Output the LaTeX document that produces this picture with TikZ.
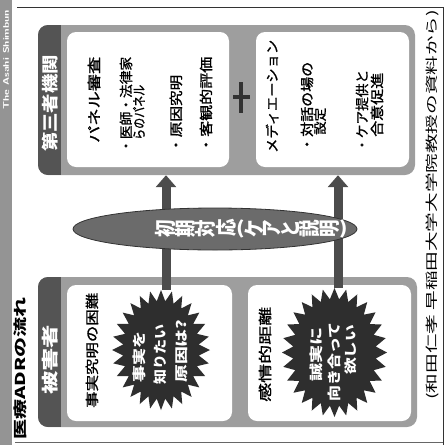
\documentclass[tikz,border=0pt]{standalone}
\usepackage{fontspec}
\usepackage{graphicx}
\newfontfamily\jp{Noto Sans CJK JP}
\newfontfamily\jpm[FakeBold=1.2]{Noto Sans CJK JP}
\usetikzlibrary{arrows.meta,shapes.geometric}
\definecolor{texgray}{gray}{0.62}
\definecolor{tabgray}{gray}{0.33}
\definecolor{bandgray}{gray}{0.58}
\definecolor{arrgray}{gray}{0.30}
\definecolor{ellgray}{gray}{0.42}
\definecolor{burstgray}{gray}{0.18}
\newcommand\rt[3]{\resizebox*{#1pt}{#2pt}{#3}}
\newcommand\rc[1]{\rotatebox[origin=c]{90}{#1}}
\tikzset{
  txt/.style={rotate=90, inner sep=0pt, anchor=west, font=\jpm},
  wtxt/.style={txt, text=white, font=\jp\bfseries},
  outerbox/.style={rectangle, rounded corners=10pt, fill=texgray, inner sep=0pt},
  innerbox/.style={fill=white, rounded corners=9pt},
  bigarrow/.style={draw=arrgray, line width=9pt, -{Triangle[width=20pt,length=12pt]}},
  frameline/.style={draw=black!80, line width=0.7pt},
  burstnode/.style={ellipse, inner sep=0pt},
}
\begin{document}
\begin{tikzpicture}[x=1pt,y=-1pt]
\useasboundingbox (0,0) rectangle (445,445);
% left band and frame
\fill[bandgray] (0,0) rectangle (12,445);
\node[rotate=90, inner sep=0pt, anchor=west, text=white] (asahi) at (6,110) {\rt{100}{6}{\sffamily\bfseries The Asahi Shimbun}};
\draw[frameline] (17,7) -- (443,7) -- (443,445);
\draw[draw=black!60, line width=0.6pt] (15,442) -- (443,442);
\node[txt, font=\jp\bfseries] (title) at (20,440) {\rt{142}{13}{医療ADRの流れ}};
\node[txt, font=\jp] (src) at (432,400) {\rt{390}{13}{(和田仁孝\ 早稲田大学大学院教授の資料から)}};

% top box
\node[outerbox, minimum width=377pt, minimum height=150pt] (top) at (226.5,100) {};
\begin{scope}
  \clip[rounded corners=10pt] (38,25) rectangle (415,175);
  \fill[tabgray] (38,25) rectangle (61,175);
\end{scope}
\fill[innerbox] (67,32) rectangle (229,167);
\fill[innerbox] (256,32) rectangle (409,167);
\draw[draw=black!80, line width=3.5pt] (241,82) -- (241,113);
\draw[draw=black!80, line width=3.5pt] (233,97) -- (250,97);
\node[wtxt] (tabtop) at (50,152) {\rt{97}{16}{第三者機関}};

\node[txt] (t1) at (94,143) {\rt{86}{12.5}{パネル審査}};
\node[txt] (t2) at (126,153) {\rt{96}{12.5}{・医師・法律家}};
\node[txt] (t3) at (139,140) {\rt{55}{12}{らのパネル}};
\node[txt] (t4) at (176,153) {\rt{78}{12.5}{・原因究明}};
\node[txt] (t5) at (206,153) {\rt{96}{12.5}{・客観的評価}};

\node[txt] (t6) at (272,153) {\rt{113}{12.5}{メディエーション}};
\node[txt] (t7) at (307,152) {\rt{90}{12.5}{・対話の場の}};
\node[txt] (t8) at (320,135) {\rt{27}{12}{設定}};
\node[txt] (t9) at (362,152) {\rt{82}{12.5}{・ケア提供と}};
\node[txt] (t10) at (377,137) {\rt{64}{12.5}{合意促進}};

% bottom box
\node[outerbox, minimum width=379pt, minimum height=150pt] (bot) at (227.5,352) {};
\begin{scope}
  \clip[rounded corners=10pt] (38,277) rectangle (417,427);
  \fill[tabgray] (38,277) rectangle (61,427);
\end{scope}
\fill[innerbox] (67,285) rectangle (232,421);
\fill[innerbox] (248,285) rectangle (411,421);
\node[wtxt] (tabbot) at (50,395) {\rt{70}{16}{被害者}};
\node[txt] (t11) at (92,408) {\rt{115}{12.5}{事実究明の困難}};
\node[txt] (t12) at (265,402) {\rt{95}{12.5}{感情的距離}};

% burst anchors
\node[burstnode, minimum width=98pt, minimum height=120pt] (b1) at (161,350) {};
\node[burstnode, minimum width=105pt, minimum height=129pt] (b2) at (334.5,352.5) {};

% arrows
\draw[bigarrow] ([xshift=5pt]b1.north) -- ([xshift=5pt]b1.north |- top.south);
\draw[bigarrow] ([xshift=3.5pt]b2.north) -- ([xshift=3.5pt]b2.north |- top.south);

% bursts
\fill[burstgray] plot[samples=57, domain=0:56, variable=\t]
  ({161+(49-11*mod(\t,2))*cos(\t*6.428571)},{350+(60-11*mod(\t,2))*sin(\t*6.428571)}) -- cycle;
\fill[burstgray] plot[samples=57, domain=0:56, variable=\t]
  ({334.5+(52.5-11*mod(\t,2))*cos(\t*6.428571)},{352.5+(64.5-11*mod(\t,2))*sin(\t*6.428571)}) -- cycle;
\node[wtxt] (s1) at (139,383) {\rt{51}{13}{事実を}};
\node[wtxt] (s2) at (160,385) {\rt{60}{13}{知りたい}};
\node[wtxt] (s3) at (182,383) {\rt{63}{12}{原因は?}};
\node[wtxt] (s4) at (316,382) {\rt{54}{13}{誠実に}};
\node[wtxt] (s5) at (334,402) {\rt{79}{13}{向き合って}};
\node[wtxt] (s6) at (351,375) {\rt{50}{12}{欲しい}};

% ellipse
\node[ellipse, fill=ellgray, draw=black!80, line width=0.8pt, minimum width=284pt, minimum height=42pt, inner sep=0pt] (ell) at (215,229) {};
\node[inner sep=0pt, anchor=west, text=white, font=\jp\bfseries] (ellt) at (155,229)
  {\rt{193}{19}{\rc{初}\rc{期}\rc{対}\rc{応}(\rc{ケ}\rc{ア}\rc{と}\rc{説}\rc{明})}};
\end{tikzpicture}
\end{document}
